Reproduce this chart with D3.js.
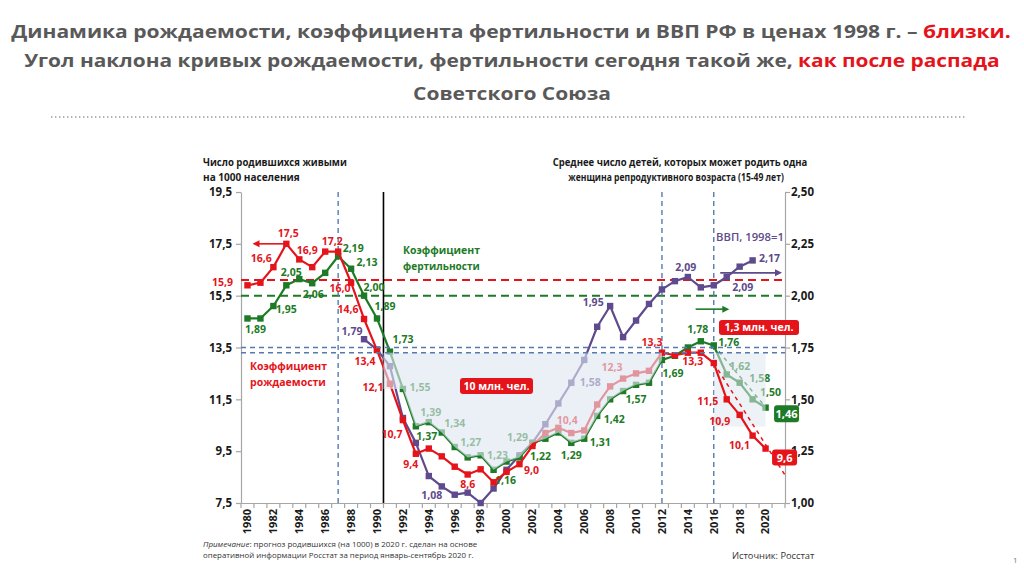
<!DOCTYPE html>
<html><head><meta charset="utf-8">
<script src="https://cdn.jsdelivr.net/npm/d3@7"></script>
<style>
body{margin:0;background:#fff}
svg{display:block}
text{font-family:"Open Sans","Noto Sans",sans-serif}
</style>
</head><body>
<svg id="c" width="1024" height="576"></svg>
<script>
// ---------------- DATA ----------------
const years = d3.range(1980, 2022);          // x categories (band axis)
const yearLabels = d3.range(1980, 2021, 2);   // tick labels shown
const seriesYears = d3.range(1980, 2021);
const birthRate = [15.9,16.0,16.6,17.5,16.9,16.6,17.2,17.2,16.0,14.6,
                   13.4,12.1,10.7,9.4,9.6,9.3,8.9,8.6,8.8,8.3,
                   8.7,9.0,9.7,10.2,10.4,10.2,10.3,11.3,12.0,12.3,
                   12.5,12.6,13.3,13.2,13.3,13.3,12.9,11.5,10.9,10.1,9.6];
const fertility = [1.89,1.89,1.95,2.05,2.08,2.06,2.11,2.19,2.13,2.00,
                   1.89,1.73,1.55,1.37,1.39,1.34,1.27,1.22,1.23,1.16,
                   1.20,1.22,1.29,1.31,1.34,1.29,1.31,1.42,1.50,1.54,
                   1.57,1.58,1.69,1.71,1.75,1.78,1.76,1.62,1.58,1.50,1.46];
const gdpYears = d3.range(1989, 2020);
const gdpIndex = [1.79,1.74,1.66,1.41,1.29,1.13,1.08,1.04,1.05,1.00,
                  1.07,1.16,1.23,1.29,1.38,1.48,1.58,1.69,1.85,1.95,
                  1.80,1.88,1.96,2.03,2.07,2.09,2.04,2.05,2.09,2.14,2.17];
const leftTicks  = [7.5, 9.5, 11.5, 13.5, 15.5, 17.5, 19.5];
const rightTicks = [1.00, 1.25, 1.50, 1.75, 2.00, 2.25, 2.50];
const redTrend   = [[2016, 12.9], [2021.6, 8.5]];
const greenTrend = [[2016, 1.76], [2020.3, 1.44]];
const birthRef = 16.1, fertRef = 2.00, blueRefs = [13.5, 13.3];
const markerYears = [1987, 2012, 2016];
const collapseYear = 1991;

// label placement (year, dx, dy) — layout only
const redLabels = [[1980,-25,-3],[1982,-12,-9],[1983,2,-11],[1984,8,-9],[1987,-6,-10],[1988,-11,6],
  [1989,-16,-10],[1990,-12,11],[1991,-17,3],[1992,-11,14],[1993,-5,10],[1997,0,10],[2001,12,6],
  [2004,9,-8],[2009,-11,-11],[2012,-10,-10],[2015,-8,9],[2017,-19,2],[2018,-20,6],[2019,-13,10]];
const greenLabels = [[1980,8,11],[1982,13,3],[1983,5,-13],[1985,1,11],[1987,15,-8],[1988,16,-6],
  [1989,10,-8],[1990,8,-12],[1991,13,-12],[1992,17,-2],[1993,11,10],[1994,2,-10],[1995,13,-9],
  [1996,16,-5],[1998,17,0],[1999,12,10],[2001,21,-1],[2002,-15,-6],[2005,0,12],[2006,16,3],
  [2007,17,3],[2010,0,14],[2012,11,13],[2015,-3,-12],[2016,15,-3],[2017,13,-8],[2018,20,-5],[2019,18,-7]];
const gdpLabels = [[1989,-12,-8],[1995,-10,9],[2005,19,-1],[2008,-17,-4],[2014,-2,-10],[2017,16,10],[2019,17,-2]];

// ---------------- STYLE ----------------
const RED = "#e5141b", GREEN = "#1d7a26", PURPLE = "#5e4a8c", GREY = "#595959", BLUE = "#5679b0";
const svg = d3.select("#c");

function fitX(textSel, target) {
  const w = textSel.node().getBBox().width;
  return w > 0 ? target / w : 1;
}
function fittedText(x, y, target, anchor, size, weight, fill, parts) {
  const g = svg.append("g");
  const t = g.append("text").attr("text-anchor", anchor).attr("font-size", size)
    .attr("font-weight", weight).attr("fill", fill);
  parts.forEach(p => {
    const ts = t.append("tspan").text(p[0]);
    if (p[1]) ts.attr("fill", p[1]);
    if (p[2]) ts.attr("font-style", "italic");
  });
  const s = fitX(t, target);
  g.attr("transform", `translate(${x},${y}) scale(${s},1)`);
  return g;
}

// ---------------- TITLE ----------------
fittedText(511, 38, 1000, "middle", 17, 700, GREY,
  [["Динамика рождаемости, коэффициента фертильности и ВВП РФ в ценах 1998 г. – "],["близки.", RED]]);
fittedText(512, 67, 976, "middle", 17, 700, GREY,
  [["Угол наклона кривых рождаемости, фертильности сегодня такой же, "],["как после распада", RED]]);
fittedText(512, 100, 198, "middle", 17, 700, GREY, [["Советского Союза"]]);
svg.append("line").attr("x1", 51).attr("x2", 967).attr("y1", 117).attr("y2", 117)
  .attr("stroke", "#9a9a9a").attr("stroke-width", 1.6).attr("stroke-dasharray", "1.4,2.6");

// ---------------- SCALES ----------------
const x = d3.scaleBand().domain(years).range([241, 785]).padding(0);
const bw = x.bandwidth();
const cx = yr => x(yr) + bw / 2;
const xl = d3.scaleLinear().domain([1980, 2021]).range([cx(1980), cx(2021)]);
const yL = d3.scaleLinear().domain([7.5, 19.5]).range([503, 192]);
const yR = d3.scaleLinear().domain([1.0, 2.5]).range([503, 192]);
const [x0, x1] = x.range();
const fmt1 = d => d3.format(".1f")(d).replace(".", ",");
const fmt2 = d => d3.format(".2f")(d).replace(".", ",");

// ---------------- AXES ----------------
const axisColor = "#a6a6a6";
const gL = svg.append("g").attr("transform", `translate(${x0},0)`)
  .call(d3.axisLeft(yL).tickValues(leftTicks).tickFormat(fmt1).tickSize(5).tickSizeOuter(0));
const gR = svg.append("g").attr("transform", `translate(${x1},0)`)
  .call(d3.axisRight(yR).tickValues(rightTicks).tickFormat(fmt2).tickSize(5).tickSizeOuter(0));
[gL, gR].forEach(g => {
  g.select(".domain").attr("stroke", axisColor).attr("stroke-width", 1.2);
  g.selectAll(".tick line").attr("stroke", axisColor).attr("stroke-width", 1.2);
  g.selectAll(".tick text").attr("font-size", 11.5).attr("font-weight", 700)
    .attr("fill", "#1a1a1a").attr("font-family", '"Open Sans",sans-serif');
});
gL.selectAll(".tick text").attr("x", -9);
gR.selectAll(".tick text").attr("x", 6);

const gB = svg.append("g").attr("transform", `translate(0,${yL(7.5)})`)
  .call(d3.axisBottom(x).tickValues(yearLabels).tickSize(0).tickSizeOuter(0));
gB.select(".domain").attr("stroke", axisColor).attr("stroke-width", 1.2);
gB.selectAll(".tick text").attr("font-size", 11).attr("font-weight", 700).attr("fill", "#1a1a1a")
  .attr("font-family", '"Open Sans",sans-serif')
  .attr("text-anchor", "end").attr("transform", "translate(0,6) rotate(-90)")
  .attr("x", 0).attr("y", 0).attr("dy", "0.35em");
gB.selectAll(".bt").data(years.concat(["end"])).enter().append("line")
  .attr("x1", d => d === "end" ? x1 : x(d)).attr("x2", d => d === "end" ? x1 : x(d))
  .attr("y1", 0).attr("y2", 5).attr("stroke", axisColor).attr("stroke-width", 1.2);

// axis titles
fittedText(203, 166, 144, "start", 10, 700, "#1a1a1a", [["Число родившихся живыми"]]);
fittedText(203, 181, 97, "start", 10, 700, "#1a1a1a", [["на 1000 населения"]]);
fittedText(680, 166, 255, "middle", 10, 700, "#1a1a1a", [["Среднее число детей, которых может родить одна"]]);
fittedText(676, 181, 216, "middle", 10, 700, "#1a1a1a", [["женщина репродуктивного возраста (15-49 лет)"]]);

// ---------------- REFERENCE LINES ----------------
const yTop = yL(19.5), yBottom = yL(7.5);
svg.append("line").attr("x1", x0).attr("x2", x1).attr("y1", yL(birthRef)).attr("y2", yL(birthRef))
  .attr("stroke", RED).attr("stroke-width", 2).attr("stroke-dasharray", "8,5");
svg.append("line").attr("x1", x0).attr("x2", x1).attr("y1", yR(fertRef)).attr("y2", yR(fertRef))
  .attr("stroke", GREEN).attr("stroke-width", 2).attr("stroke-dasharray", "8,5");
svg.selectAll(".vref").data(markerYears).enter().append("line")
  .attr("x1", d => cx(d)).attr("x2", d => cx(d)).attr("y1", yTop).attr("y2", yBottom)
  .attr("stroke", BLUE).attr("stroke-width", 1.4).attr("stroke-dasharray", "5,4");
svg.append("line").attr("x1", x(collapseYear)).attr("x2", x(collapseYear)).attr("y1", yTop).attr("y2", yBottom)
  .attr("stroke", "#000").attr("stroke-width", 1.6);

// ---------------- SERIES ----------------
const redData = seriesYears.map((yr, i) => ({ yr, v: birthRate[i] }));
const greenData = seriesYears.map((yr, i) => ({ yr, v: fertility[i] }));
const gdpData = gdpYears.map((yr, i) => ({ yr, v: gdpIndex[i] }));

function drawSeries(data, yScale, color) {
  svg.append("path").datum(data).attr("fill", "none").attr("stroke", color).attr("stroke-width", 2.2)
    .attr("stroke-linejoin", "round")
    .attr("d", d3.line().x(d => cx(d.yr)).y(d => yScale(d.v)));
  svg.selectAll(null).data(data).enter().append("rect")
    .attr("x", d => cx(d.yr) - 3.2).attr("y", d => yScale(d.v) - 3.2)
    .attr("width", 6.4).attr("height", 6.4).attr("fill", color);
}
function drawTrend(pts, yScale, color) {
  svg.append("path").datum(pts).attr("fill", "none").attr("stroke", color).attr("stroke-width", 1.5)
    .attr("stroke-dasharray", "4,4")
    .attr("d", d3.line().x(d => xl(d[0])).y(d => yScale(d[1])));
}
function drawLabels(specs, data, yScale, color, fmt) {
  const lookup = new Map(data.map(d => [d.yr, d.v]));
  svg.selectAll(null).data(specs).enter().append("text")
    .attr("x", d => cx(d[0]) + d[1]).attr("y", d => yScale(lookup.get(d[0])) + d[2])
    .attr("text-anchor", "middle").attr("dy", "0.36em")
    .attr("font-size", 10.5).attr("font-weight", 700).attr("fill", color)
    .text(d => fmt(lookup.get(d[0])));
}
const shadeTop = yL(blueRefs[1]);

drawTrend(greenTrend, yR, GREEN);
drawSeries(gdpData, yR, PURPLE);
drawSeries(greenData, yR, GREEN);
drawLabels(gdpLabels, gdpData, yR, PURPLE, fmt2);
drawLabels(greenLabels, greenData, yR, GREEN, fmt2);

// forecast-period shading (over green only)
svg.append("rect").attr("x", cx(2016)).attr("y", shadeTop)
  .attr("width", cx(2020) - cx(2016)).attr("height", yL(10.45) - shadeTop)
  .attr("fill", "#dfe7f1").attr("fill-opacity", 0.55);

drawTrend(redTrend, yL, RED);
drawSeries(redData, yL, RED);
drawLabels(redLabels, redData, yL, RED, fmt1);

// ---------------- SHADED GAP ----------------
const gap = greenData.filter(d => d.yr >= 1992 && d.yr <= 2012).reverse();
const poly = [[x(collapseYear), shadeTop], [cx(2012), shadeTop]]
  .concat(gap.map(d => [cx(d.yr), yR(d.v)]))
  .concat([[x(collapseYear), yR(fertility[seriesYears.indexOf(1992)])]]);
svg.append("path").attr("d", d3.line()(poly) + "Z")
  .attr("fill", "#dfe7f1").attr("fill-opacity", 0.62);

svg.selectAll(".href").data(blueRefs).enter().append("line")
  .attr("x1", x0).attr("x2", x1).attr("y1", d => yL(d)).attr("y2", d => yL(d))
  .attr("stroke", BLUE).attr("stroke-width", 1.4).attr("stroke-dasharray", "5,4");

// ---------------- ANNOTATIONS ----------------
function arrow(xa, xb, yy, color) {
  const dir = Math.sign(xb - xa);
  svg.append("line").attr("x1", xa).attr("x2", xb - dir * 4).attr("y1", yy).attr("y2", yy)
    .attr("stroke", color).attr("stroke-width", 1.6);
  svg.append("path").attr("d", `M${xb},${yy} L${xb - dir * 7},${yy - 3.5} L${xb - dir * 7},${yy + 3.5} Z`)
    .attr("fill", color);
}
arrow(cx(1983), cx(1980) + 5, yL(17.5), RED);
arrow(xl(2014.6), xl(2017.2), yR(1.935), GREEN);
arrow(xl(2016.5), x1 - 3, yR(2.11), PURPLE);

fittedText(403, 254, 77, "start", 11, 700, GREEN, [["Коэффициент"]]);
fittedText(403, 270, 77, "start", 11, 700, GREEN, [["фертильности"]]);
fittedText(250, 370, 77, "start", 11, 700, RED, [["Коэффициент"]]);
fittedText(250, 386, 76, "start", 11, 700, RED, [["рождаемости"]]);
fittedText(716, 241, 68, "start", 11, 600, PURPLE, [["ВВП, 1998=1"]]);

function box(cxp, cyp, w, h, fill, txt, size) {
  svg.append("rect").attr("x", cxp - w / 2).attr("y", cyp - h / 2).attr("width", w).attr("height", h)
    .attr("rx", 3).attr("fill", fill);
  svg.append("text").attr("x", cxp).attr("y", cyp).attr("dy", "0.36em").attr("text-anchor", "middle")
    .attr("font-size", size).attr("font-weight", 700).attr("fill", "#fff").text(txt);
}
box(496.5, 386, 73, 16, RED, "10 млн. чел.", 10.5);
box(759, 327.5, 80, 15, RED, "1,3 млн. чел.", 10.5);
box(cx(2020) + 19, yL(birthRate[40]) + 9, 25, 16, RED, fmt1(birthRate[40]), 11);
box(cx(2020) + 21, yR(fertility[40]) + 6, 25, 17, GREEN, fmt2(fertility[40]), 11);

// ---------------- FOOTNOTES ----------------
fittedText(203, 547, 275, "start", 8, 400, "#333",
  [["Примечание", null, true], [": прогноз родившихся (на 1000) в 2020 г. сделан на основе"]]);
fittedText(203, 558, 271, "start", 8, 400, "#333",
  [["оперативной информации Росстат за период  январь-сентябрь 2020 г."]]);
fittedText(732, 559, 83, "start", 9.5, 400, "#333", [["Источник: Росстат"]]);
svg.append("text").attr("x", 1013).attr("y", 563).attr("font-size", 8).attr("fill", "#777").text("1");
</script>
</body></html>
